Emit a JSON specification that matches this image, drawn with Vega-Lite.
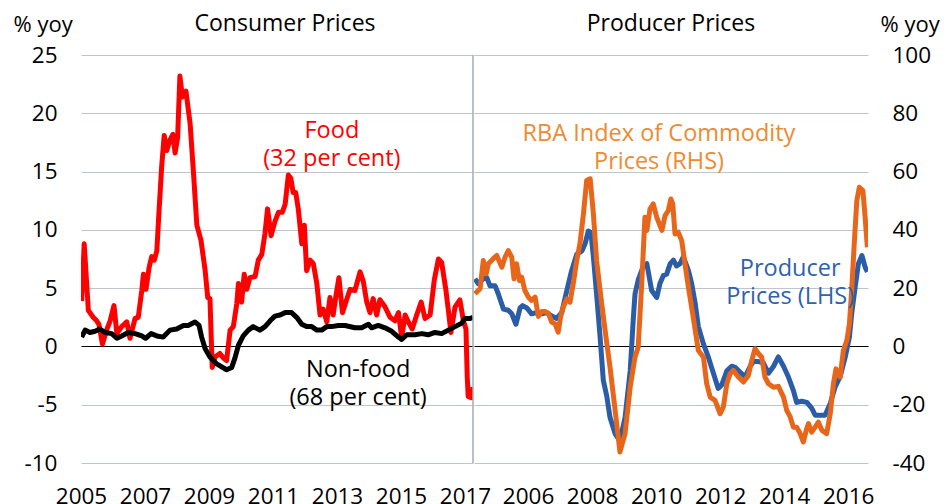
{
  "$schema": "https://vega.github.io/schema/vega-lite/v6.json",
  "background": "white",
  "padding": {"left": 13, "top": 13, "right": 0, "bottom": 0},
  "spacing": 1,
  "bounds": "flush",
  "config": {
    "font": "Open Sans",
    "view": {"stroke": null},
    "axis": {"labelFontSize": 22.5, "labelColor": "#000000", "titleFontSize": 22, "titleFontWeight": "normal", "titleColor": "#000000", "labelFont": "Open Sans", "titleFont": "Open Sans"},
    "title": {"fontSize": 23, "fontWeight": "normal", "color": "#000000", "font": "Open Sans"}
  },
  "datasets": {
    "consumer": [
      {"year": 2005.02, "series": "Food", "value": 3.9}, {"year": 2005.10, "series": "Food", "value": 8.8}, {"year": 2005.23, "series": "Food", "value": 3.1}, {"year": 2005.38, "series": "Food", "value": 2.5}, {"year": 2005.49, "series": "Food", "value": 2.2}, {"year": 2005.56, "series": "Food", "value": 1.9}, {"year": 2005.67, "series": "Food", "value": 0.2}, {"year": 2005.80, "series": "Food", "value": 1.4}, {"year": 2005.91, "series": "Food", "value": 2.2}, {"year": 2006.03, "series": "Food", "value": 3.5}, {"year": 2006.12, "series": "Food", "value": 1.1}, {"year": 2006.27, "series": "Food", "value": 1.7}, {"year": 2006.43, "series": "Food", "value": 2.1}, {"year": 2006.53, "series": "Food", "value": 0.7}, {"year": 2006.69, "series": "Food", "value": 2.4}, {"year": 2006.79, "series": "Food", "value": 2.5}, {"year": 2006.90, "series": "Food", "value": 4.8}, {"year": 2006.95, "series": "Food", "value": 6.2}, {"year": 2007.03, "series": "Food", "value": 4.9}, {"year": 2007.13, "series": "Food", "value": 6.8}, {"year": 2007.21, "series": "Food", "value": 7.7}, {"year": 2007.29, "series": "Food", "value": 7.4}, {"year": 2007.37, "series": "Food", "value": 8.2}, {"year": 2007.44, "series": "Food", "value": 11.7}, {"year": 2007.52, "series": "Food", "value": 15.4}, {"year": 2007.60, "series": "Food", "value": 18.1}, {"year": 2007.68, "series": "Food", "value": 16.8}, {"year": 2007.78, "series": "Food", "value": 17.7}, {"year": 2007.87, "series": "Food", "value": 18.2}, {"year": 2007.94, "series": "Food", "value": 16.6}, {"year": 2008.02, "series": "Food", "value": 17.9}, {"year": 2008.09, "series": "Food", "value": 23.2}, {"year": 2008.17, "series": "Food", "value": 21.4}, {"year": 2008.28, "series": "Food", "value": 21.9}, {"year": 2008.41, "series": "Food", "value": 19.1}, {"year": 2008.51, "series": "Food", "value": 15.1}, {"year": 2008.62, "series": "Food", "value": 10.4}, {"year": 2008.75, "series": "Food", "value": 9.1}, {"year": 2008.88, "series": "Food", "value": 6.5}, {"year": 2008.96, "series": "Food", "value": 4.2}, {"year": 2009.03, "series": "Food", "value": 4.1}, {"year": 2009.10, "series": "Food", "value": -1.8}, {"year": 2009.19, "series": "Food", "value": -0.9}, {"year": 2009.34, "series": "Food", "value": -0.6}, {"year": 2009.45, "series": "Food", "value": -1.0}, {"year": 2009.55, "series": "Food", "value": -1.2}, {"year": 2009.66, "series": "Food", "value": 1.4}, {"year": 2009.76, "series": "Food", "value": 1.7}, {"year": 2009.87, "series": "Food", "value": 3.7}, {"year": 2009.92, "series": "Food", "value": 5.4}, {"year": 2010.02, "series": "Food", "value": 3.8}, {"year": 2010.10, "series": "Food", "value": 6.2}, {"year": 2010.18, "series": "Food", "value": 4.9}, {"year": 2010.28, "series": "Food", "value": 5.9}, {"year": 2010.44, "series": "Food", "value": 6.0}, {"year": 2010.54, "series": "Food", "value": 7.4}, {"year": 2010.65, "series": "Food", "value": 7.9}, {"year": 2010.75, "series": "Food", "value": 9.7}, {"year": 2010.83, "series": "Food", "value": 11.8}, {"year": 2010.94, "series": "Food", "value": 9.5}, {"year": 2011.06, "series": "Food", "value": 10.7}, {"year": 2011.17, "series": "Food", "value": 11.5}, {"year": 2011.29, "series": "Food", "value": 11.5}, {"year": 2011.38, "series": "Food", "value": 12.2}, {"year": 2011.48, "series": "Food", "value": 14.7}, {"year": 2011.56, "series": "Food", "value": 14.4}, {"year": 2011.63, "series": "Food", "value": 13.2}, {"year": 2011.71, "series": "Food", "value": 13.2}, {"year": 2011.79, "series": "Food", "value": 11.8}, {"year": 2011.90, "series": "Food", "value": 8.8}, {"year": 2011.98, "series": "Food", "value": 10.4}, {"year": 2012.05, "series": "Food", "value": 6.5}, {"year": 2012.16, "series": "Food", "value": 7.4}, {"year": 2012.26, "series": "Food", "value": 7.1}, {"year": 2012.37, "series": "Food", "value": 5.4}, {"year": 2012.47, "series": "Food", "value": 2.7}, {"year": 2012.57, "series": "Food", "value": 3.2}, {"year": 2012.68, "series": "Food", "value": 2.1}, {"year": 2012.78, "series": "Food", "value": 4.2}, {"year": 2012.88, "series": "Food", "value": 2.7}, {"year": 2012.97, "series": "Food", "value": 4.4}, {"year": 2013.06, "series": "Food", "value": 5.9}, {"year": 2013.17, "series": "Food", "value": 2.9}, {"year": 2013.30, "series": "Food", "value": 4.0}, {"year": 2013.41, "series": "Food", "value": 4.9}, {"year": 2013.56, "series": "Food", "value": 4.8}, {"year": 2013.72, "series": "Food", "value": 6.4}, {"year": 2013.82, "series": "Food", "value": 5.6}, {"year": 2013.93, "series": "Food", "value": 3.8}, {"year": 2014.03, "series": "Food", "value": 2.9}, {"year": 2014.13, "series": "Food", "value": 4.1}, {"year": 2014.24, "series": "Food", "value": 2.7}, {"year": 2014.34, "series": "Food", "value": 4.0}, {"year": 2014.50, "series": "Food", "value": 3.4}, {"year": 2014.66, "series": "Food", "value": 2.5}, {"year": 2014.81, "series": "Food", "value": 2.2}, {"year": 2014.92, "series": "Food", "value": 2.9}, {"year": 2015.02, "series": "Food", "value": 0.8}, {"year": 2015.13, "series": "Food", "value": 2.7}, {"year": 2015.23, "series": "Food", "value": 2.1}, {"year": 2015.35, "series": "Food", "value": 1.5}, {"year": 2015.49, "series": "Food", "value": 2.7}, {"year": 2015.63, "series": "Food", "value": 3.8}, {"year": 2015.75, "series": "Food", "value": 2.4}, {"year": 2015.91, "series": "Food", "value": 2.7}, {"year": 2016.04, "series": "Food", "value": 5.7}, {"year": 2016.17, "series": "Food", "value": 7.5}, {"year": 2016.27, "series": "Food", "value": 7.2}, {"year": 2016.40, "series": "Food", "value": 4.9}, {"year": 2016.48, "series": "Food", "value": 3.1}, {"year": 2016.56, "series": "Food", "value": 1.2}, {"year": 2016.69, "series": "Food", "value": 3.4}, {"year": 2016.84, "series": "Food", "value": 4.0}, {"year": 2016.95, "series": "Food", "value": 2.2}, {"year": 2017.03, "series": "Food", "value": 1.5}, {"year": 2017.07, "series": "Food", "value": -2.6}, {"year": 2017.10, "series": "Food", "value": -4.3}, {"year": 2017.19, "series": "Food", "value": -4.4}, {"year": 2017.25, "series": "Food", "value": -3.5},
      {"year": 2005.02, "series": "Non-food", "value": 0.8}, {"year": 2005.13, "series": "Non-food", "value": 1.4}, {"year": 2005.28, "series": "Non-food", "value": 1.2}, {"year": 2005.44, "series": "Non-food", "value": 1.3}, {"year": 2005.59, "series": "Non-food", "value": 1.5}, {"year": 2005.75, "series": "Non-food", "value": 1.2}, {"year": 2005.96, "series": "Non-food", "value": 1.1}, {"year": 2006.12, "series": "Non-food", "value": 0.7}, {"year": 2006.27, "series": "Non-food", "value": 0.9}, {"year": 2006.48, "series": "Non-food", "value": 1.2}, {"year": 2006.69, "series": "Non-food", "value": 1.1}, {"year": 2006.90, "series": "Non-food", "value": 0.9}, {"year": 2007.02, "series": "Non-food", "value": 0.7}, {"year": 2007.19, "series": "Non-food", "value": 1.1}, {"year": 2007.37, "series": "Non-food", "value": 0.9}, {"year": 2007.57, "series": "Non-food", "value": 0.8}, {"year": 2007.78, "series": "Non-food", "value": 1.4}, {"year": 2007.99, "series": "Non-food", "value": 1.5}, {"year": 2008.20, "series": "Non-food", "value": 1.8}, {"year": 2008.35, "series": "Non-food", "value": 1.8}, {"year": 2008.56, "series": "Non-food", "value": 2.1}, {"year": 2008.69, "series": "Non-food", "value": 1.8}, {"year": 2008.77, "series": "Non-food", "value": 0.8}, {"year": 2008.88, "series": "Non-food", "value": -0.2}, {"year": 2009.03, "series": "Non-food", "value": -0.9}, {"year": 2009.24, "series": "Non-food", "value": -1.5}, {"year": 2009.55, "series": "Non-food", "value": -2.0}, {"year": 2009.71, "series": "Non-food", "value": -1.8}, {"year": 2009.81, "series": "Non-food", "value": -1.0}, {"year": 2009.92, "series": "Non-food", "value": 0.1}, {"year": 2010.07, "series": "Non-food", "value": 0.9}, {"year": 2010.23, "series": "Non-food", "value": 1.4}, {"year": 2010.38, "series": "Non-food", "value": 1.7}, {"year": 2010.59, "series": "Non-food", "value": 1.4}, {"year": 2010.75, "series": "Non-food", "value": 1.7}, {"year": 2010.91, "series": "Non-food", "value": 2.2}, {"year": 2011.06, "series": "Non-food", "value": 2.6}, {"year": 2011.22, "series": "Non-food", "value": 2.7}, {"year": 2011.38, "series": "Non-food", "value": 2.9}, {"year": 2011.58, "series": "Non-food", "value": 2.9}, {"year": 2011.74, "series": "Non-food", "value": 2.5}, {"year": 2011.90, "series": "Non-food", "value": 1.9}, {"year": 2012.05, "series": "Non-food", "value": 1.7}, {"year": 2012.21, "series": "Non-food", "value": 1.7}, {"year": 2012.37, "series": "Non-food", "value": 1.4}, {"year": 2012.52, "series": "Non-food", "value": 1.4}, {"year": 2012.68, "series": "Non-food", "value": 1.7}, {"year": 2012.83, "series": "Non-food", "value": 1.7}, {"year": 2013.04, "series": "Non-food", "value": 1.8}, {"year": 2013.25, "series": "Non-food", "value": 1.8}, {"year": 2013.56, "series": "Non-food", "value": 1.6}, {"year": 2013.77, "series": "Non-food", "value": 1.6}, {"year": 2013.98, "series": "Non-food", "value": 1.9}, {"year": 2014.08, "series": "Non-food", "value": 1.6}, {"year": 2014.29, "series": "Non-food", "value": 1.8}, {"year": 2014.50, "series": "Non-food", "value": 1.6}, {"year": 2014.71, "series": "Non-food", "value": 1.3}, {"year": 2014.92, "series": "Non-food", "value": 0.8}, {"year": 2015.02, "series": "Non-food", "value": 0.6}, {"year": 2015.18, "series": "Non-food", "value": 1.0}, {"year": 2015.44, "series": "Non-food", "value": 1.0}, {"year": 2015.65, "series": "Non-food", "value": 1.1}, {"year": 2015.85, "series": "Non-food", "value": 1.0}, {"year": 2016.06, "series": "Non-food", "value": 1.2}, {"year": 2016.27, "series": "Non-food", "value": 1.1}, {"year": 2016.48, "series": "Non-food", "value": 1.4}, {"year": 2016.69, "series": "Non-food", "value": 1.7}, {"year": 2016.90, "series": "Non-food", "value": 2.0}, {"year": 2017.00, "series": "Non-food", "value": 2.4}, {"year": 2017.16, "series": "Non-food", "value": 2.4}, {"year": 2017.25, "series": "Non-food", "value": 2.5}
    ],
    "ppi": [
      {"year": 2004.34, "value": 5.8}, {"year": 2004.44, "value": 5.4}, {"year": 2004.60, "value": 5.8}, {"year": 2004.71, "value": 5.9}, {"year": 2004.81, "value": 5.2}, {"year": 2004.97, "value": 5.2}, {"year": 2005.07, "value": 4.5}, {"year": 2005.23, "value": 3.2}, {"year": 2005.38, "value": 3.1}, {"year": 2005.49, "value": 2.8}, {"year": 2005.62, "value": 1.9}, {"year": 2005.75, "value": 3.3}, {"year": 2005.83, "value": 3.5}, {"year": 2005.96, "value": 3.3}, {"year": 2006.11, "value": 2.8}, {"year": 2006.27, "value": 2.9}, {"year": 2006.43, "value": 2.8}, {"year": 2006.58, "value": 2.9}, {"year": 2006.74, "value": 2.6}, {"year": 2006.89, "value": 2.4}, {"year": 2007.05, "value": 2.9}, {"year": 2007.21, "value": 4.8}, {"year": 2007.36, "value": 6.5}, {"year": 2007.52, "value": 7.9}, {"year": 2007.68, "value": 8.2}, {"year": 2007.78, "value": 8.8}, {"year": 2007.88, "value": 9.9}, {"year": 2007.96, "value": 9.8}, {"year": 2008.04, "value": 7.7}, {"year": 2008.14, "value": 4.5}, {"year": 2008.25, "value": 0.8}, {"year": 2008.35, "value": -2.9}, {"year": 2008.46, "value": -4.3}, {"year": 2008.56, "value": -6.1}, {"year": 2008.72, "value": -7.5}, {"year": 2008.87, "value": -8.1}, {"year": 2009.03, "value": -6.1}, {"year": 2009.19, "value": -2.1}, {"year": 2009.29, "value": 2.5}, {"year": 2009.34, "value": 4.5}, {"year": 2009.44, "value": 5.7}, {"year": 2009.60, "value": 6.9}, {"year": 2009.71, "value": 7.1}, {"year": 2009.86, "value": 4.8}, {"year": 2010.02, "value": 4.2}, {"year": 2010.12, "value": 5.4}, {"year": 2010.23, "value": 6.1}, {"year": 2010.33, "value": 6.2}, {"year": 2010.44, "value": 7.1}, {"year": 2010.54, "value": 7.4}, {"year": 2010.64, "value": 6.9}, {"year": 2010.75, "value": 7.1}, {"year": 2010.85, "value": 7.7}, {"year": 2011.01, "value": 6.5}, {"year": 2011.11, "value": 5.4}, {"year": 2011.22, "value": 3.7}, {"year": 2011.32, "value": 1.7}, {"year": 2011.48, "value": 0.2}, {"year": 2011.63, "value": -0.9}, {"year": 2011.79, "value": -2.3}, {"year": 2011.94, "value": -3.6}, {"year": 2012.05, "value": -3.3}, {"year": 2012.21, "value": -2.1}, {"year": 2012.36, "value": -1.7}, {"year": 2012.47, "value": -1.8}, {"year": 2012.62, "value": -2.2}, {"year": 2012.78, "value": -2.6}, {"year": 2012.94, "value": -1.7}, {"year": 2013.04, "value": -1.3}, {"year": 2013.20, "value": -1.3}, {"year": 2013.35, "value": -1.4}, {"year": 2013.51, "value": -2.3}, {"year": 2013.67, "value": -1.7}, {"year": 2013.82, "value": -0.9}, {"year": 2013.98, "value": -1.7}, {"year": 2014.13, "value": -2.6}, {"year": 2014.29, "value": -3.8}, {"year": 2014.39, "value": -4.8}, {"year": 2014.55, "value": -4.7}, {"year": 2014.71, "value": -4.8}, {"year": 2014.86, "value": -5.3}, {"year": 2014.97, "value": -5.9}, {"year": 2015.12, "value": -5.9}, {"year": 2015.28, "value": -5.9}, {"year": 2015.44, "value": -4.9}, {"year": 2015.59, "value": -3.5}, {"year": 2015.75, "value": -2.6}, {"year": 2015.91, "value": -0.9}, {"year": 2016.04, "value": 0.8}, {"year": 2016.11, "value": 2.8}, {"year": 2016.22, "value": 5.1}, {"year": 2016.32, "value": 7.1}, {"year": 2016.43, "value": 7.8}, {"year": 2016.53, "value": 6.8}, {"year": 2016.60, "value": 6.4}
    ],
    "rba": [
      {"year": 2004.34, "value": 18.1}, {"year": 2004.50, "value": 19.8}, {"year": 2004.60, "value": 29.5}, {"year": 2004.69, "value": 24.9}, {"year": 2004.76, "value": 28.4}, {"year": 2004.91, "value": 30.1}, {"year": 2005.02, "value": 31.2}, {"year": 2005.18, "value": 27.2}, {"year": 2005.28, "value": 30.6}, {"year": 2005.38, "value": 32.9}, {"year": 2005.49, "value": 30.6}, {"year": 2005.56, "value": 23.2}, {"year": 2005.64, "value": 28.4}, {"year": 2005.73, "value": 22.6}, {"year": 2005.80, "value": 23.8}, {"year": 2005.90, "value": 19.2}, {"year": 2006.01, "value": 16.9}, {"year": 2006.11, "value": 15.8}, {"year": 2006.22, "value": 16.9}, {"year": 2006.32, "value": 10.3}, {"year": 2006.43, "value": 12.0}, {"year": 2006.53, "value": 12.0}, {"year": 2006.63, "value": 11.4}, {"year": 2006.74, "value": 8.3}, {"year": 2006.84, "value": 7.8}, {"year": 2006.94, "value": 4.9}, {"year": 2007.02, "value": 10.3}, {"year": 2007.10, "value": 13.5}, {"year": 2007.21, "value": 16.3}, {"year": 2007.31, "value": 15.2}, {"year": 2007.41, "value": 21.5}, {"year": 2007.52, "value": 29.5}, {"year": 2007.62, "value": 35.2}, {"year": 2007.73, "value": 45.5}, {"year": 2007.83, "value": 56.9}, {"year": 2007.94, "value": 57.5}, {"year": 2008.04, "value": 45.5}, {"year": 2008.14, "value": 29.5}, {"year": 2008.30, "value": 14.6}, {"year": 2008.46, "value": 1.0}, {"year": 2008.56, "value": -7.1}, {"year": 2008.72, "value": -22.0}, {"year": 2008.87, "value": -36.2}, {"year": 2009.03, "value": -29.9}, {"year": 2009.19, "value": -14.0}, {"year": 2009.34, "value": -3.7}, {"year": 2009.44, "value": -0.2}, {"year": 2009.55, "value": 21.5}, {"year": 2009.65, "value": 44.3}, {"year": 2009.71, "value": 39.8}, {"year": 2009.81, "value": 47.2}, {"year": 2009.91, "value": 48.9}, {"year": 2010.02, "value": 44.3}, {"year": 2010.18, "value": 39.8}, {"year": 2010.28, "value": 44.9}, {"year": 2010.38, "value": 46.6}, {"year": 2010.46, "value": 50.6}, {"year": 2010.52, "value": 48.9}, {"year": 2010.59, "value": 38.6}, {"year": 2010.69, "value": 39.2}, {"year": 2010.80, "value": 36.3}, {"year": 2010.90, "value": 28.4}, {"year": 2011.01, "value": 20.3}, {"year": 2011.16, "value": 10.0}, {"year": 2011.32, "value": -1.4}, {"year": 2011.48, "value": -3.7}, {"year": 2011.58, "value": -12.8}, {"year": 2011.69, "value": -17.4}, {"year": 2011.84, "value": -18.5}, {"year": 2012.00, "value": -23.1}, {"year": 2012.10, "value": -20.8}, {"year": 2012.21, "value": -12.8}, {"year": 2012.31, "value": -9.4}, {"year": 2012.41, "value": -8.2}, {"year": 2012.57, "value": -10.5}, {"year": 2012.73, "value": -12.2}, {"year": 2012.88, "value": -10.0}, {"year": 2012.99, "value": -4.8}, {"year": 2013.09, "value": -0.8}, {"year": 2013.20, "value": -2.5}, {"year": 2013.30, "value": -3.7}, {"year": 2013.40, "value": -10.5}, {"year": 2013.51, "value": -12.8}, {"year": 2013.67, "value": -14.0}, {"year": 2013.82, "value": -13.7}, {"year": 2013.98, "value": -17.4}, {"year": 2014.08, "value": -21.9}, {"year": 2014.19, "value": -24.2}, {"year": 2014.29, "value": -27.7}, {"year": 2014.39, "value": -27.7}, {"year": 2014.50, "value": -29.9}, {"year": 2014.60, "value": -32.8}, {"year": 2014.69, "value": -28.8}, {"year": 2014.76, "value": -26.5}, {"year": 2014.86, "value": -29.4}, {"year": 2014.97, "value": -27.7}, {"year": 2015.07, "value": -26.0}, {"year": 2015.18, "value": -28.8}, {"year": 2015.33, "value": -29.9}, {"year": 2015.44, "value": -23.1}, {"year": 2015.54, "value": -12.8}, {"year": 2015.62, "value": -7.7}, {"year": 2015.75, "value": -10.5}, {"year": 2015.85, "value": -1.4}, {"year": 2015.96, "value": 2.1}, {"year": 2016.04, "value": 7.8}, {"year": 2016.11, "value": 19.2}, {"year": 2016.19, "value": 35.2}, {"year": 2016.27, "value": 50.0}, {"year": 2016.35, "value": 54.6}, {"year": 2016.46, "value": 53.5}, {"year": 2016.53, "value": 44.3}, {"year": 2016.60, "value": 34.0}
    ]
  },
  "hconcat": [
    {
      "width": 392,
      "height": 408,
      "title": {"text": "Consumer Prices", "frame": "group", "anchor": "middle", "baseline": "alphabetic", "offset": -41, "dx": 8},
      "layer": [
        {
          "data": {"name": "consumer"},
          "mark": {"type": "line", "strokeWidth": 5, "strokeJoin": "round", "clip": true},
          "encoding": {
            "x": {"field": "year", "type": "quantitative", "scale": {"domain": [2005, 2017.25], "nice": false, "zero": false},
                  "axis": {"values": [2005, 2007, 2009, 2011, 2013, 2015, 2017], "format": "d", "title": null, "grid": false, "ticks": false, "domain": false, "labelPadding": 22, "labelFlush": false, "labelOverlap": false}},
            "y": {"field": "value", "type": "quantitative", "scale": {"domain": [-10, 25], "nice": false, "zero": false},
                  "axis": {"values": [-10, -5, 0, 5, 10, 15, 20, 25], "labelExpr": "'' + datum.value", "title": "% yoy", "titleAngle": 0, "titleAlign": "left", "titleBaseline": "alphabetic", "titleX": -68, "titleY": -24, "grid": true, "gridColor": {"condition": {"test": "datum.value === 0", "value": "#000000"}, "value": "#BFC5CA"}, "gridWidth": 1.2, "ticks": false, "domain": false, "labelPadding": 24}},
            "color": {"field": "series", "type": "nominal", "scale": {"domain": ["Food", "Non-food"], "range": ["#FF0000", "#000000"]}, "legend": null}
          }
        },
        {
          "data": {"values": [{}]},
          "mark": {"type": "rule", "color": "#A3ACB3", "strokeWidth": 1.5},
          "encoding": {"x": {"datum": 2017.25}}
        },
        {
          "data": {"values": [{}]},
          "mark": {"type": "text", "color": "#FF0000", "fontSize": 23.5, "lineHeight": 28, "align": "center", "baseline": "middle"},
          "encoding": {"x": {"datum": 2012.84}, "y": {"datum": 18.5}, "text": {"value": ["Food", "(32 per cent)"]}}
        },
        {
          "data": {"values": [{}]},
          "mark": {"type": "text", "color": "#000000", "fontSize": 23.5, "lineHeight": 28, "align": "center", "baseline": "middle"},
          "encoding": {"x": {"datum": 2013.66}, "y": {"datum": -2.06}, "text": {"value": ["Non-food", "(68 per cent)"]}}
        }
      ]
    },
    {
      "width": 394,
      "height": 408,
      "title": {"text": "Producer Prices", "frame": "group", "anchor": "middle", "baseline": "alphabetic", "offset": -41},
      "layer": [
        {
          "data": {"name": "ppi"},
          "mark": {"type": "line", "strokeWidth": 5, "strokeJoin": "round", "color": "#2A5CA8", "clip": true},
          "encoding": {
            "x": {"field": "year", "type": "quantitative", "scale": {"domain": [2004.31, 2016.62], "nice": false, "zero": false},
                  "axis": {"values": [2006, 2008, 2010, 2012, 2014, 2016], "format": "d", "title": null, "grid": false, "ticks": false, "domain": false, "labelPadding": 22, "labelFlush": false, "labelOverlap": false}},
            "y": {"field": "value", "type": "quantitative", "scale": {"domain": [-10, 25], "nice": false, "zero": false}, "axis": null}
          }
        },
        {
          "data": {"name": "rba"},
          "mark": {"type": "line", "strokeWidth": 5, "strokeJoin": "round", "color": "#E8661A", "clip": true},
          "encoding": {
            "x": {"field": "year", "type": "quantitative"},
            "y": {"field": "value", "type": "quantitative", "scale": {"domain": [-40, 100], "nice": false, "zero": false},
                  "axis": {"orient": "right", "values": [-40, -20, 0, 20, 40, 60, 80, 100], "labelExpr": "'' + datum.value", "title": "% yoy", "titleAngle": 0, "titleAlign": "left", "titleBaseline": "alphabetic", "titleX": 12, "titleY": -24, "grid": true, "gridColor": {"condition": {"test": "datum.value === 0", "value": "#000000"}, "value": "#BFC5CA"}, "gridWidth": 1.2, "ticks": false, "domain": false, "labelPadding": 24}}
          }
        },
        {
          "data": {"values": [{}]},
          "mark": {"type": "text", "color": "#F08A30", "fontSize": 23.5, "lineHeight": 28, "align": "center", "baseline": "middle"},
          "encoding": {"x": {"datum": 2010.09}, "y": {"datum": 73.0, "scale": {"domain": [-40, 100], "nice": false, "zero": false}, "axis": null}, "text": {"value": ["RBA Index of Commodity", "Prices (RHS)"]}}
        },
        {
          "data": {"values": [{}]},
          "mark": {"type": "text", "color": "#2E62AE", "fontSize": 23.5, "lineHeight": 28, "align": "center", "baseline": "middle"},
          "encoding": {"x": {"datum": 2014.19}, "y": {"datum": 26.7, "scale": {"domain": [-40, 100], "nice": false, "zero": false}, "axis": null}, "text": {"value": ["Producer", "Prices (LHS)"]}}
        }
      ],
      "resolve": {"scale": {"y": "independent"}, "axis": {"y": "independent"}}
    }
  ]
}
